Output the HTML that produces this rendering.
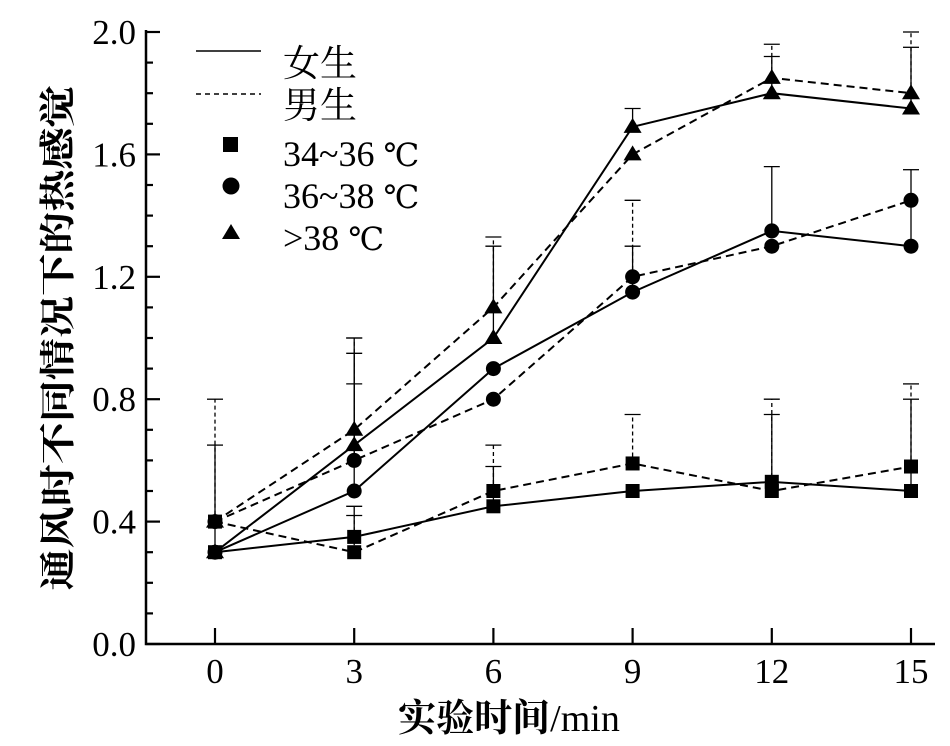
<!DOCTYPE html>
<html><head><meta charset="utf-8"><style>body{margin:0;background:#fff}svg{display:block}</style></head><body>
<svg width="950" height="746" viewBox="0 0 950 746" xmlns="http://www.w3.org/2000/svg" font-family="'Liberation Serif','Noto Serif CJK SC',serif">
<g stroke="#000" stroke-width="2.5" fill="none">
<path d="M146,30V644H935"/>
</g>
<g stroke="#000" stroke-width="2.2" id="ticks"></g>
<g font-size="35" text-anchor="end" id="ylab"></g>
<g font-size="35" text-anchor="middle" id="xlab"></g>
<text x="70" y="338" font-size="36" text-anchor="middle" transform="rotate(-90 70 338)" textLength="505" lengthAdjust="spacingAndGlyphs" font-family="'Noto Serif CJK SC',serif" font-weight="bold">通风时不同情况下的热感觉</text>
<text x="509" y="731" font-size="38" text-anchor="middle"><tspan font-family="'Noto Serif CJK SC',serif" font-weight="bold">实验时间</tspan>/min</text>
<g id="err" stroke="#000" stroke-width="1.3"></g>
<g id="lines" fill="none" stroke="#000" stroke-width="2"></g>
<g id="marks" fill="#000"></g>
<g font-size="36">
<line x1="196" y1="51" x2="261" y2="51" stroke="#000" stroke-width="1.5"/>
<line x1="196" y1="94" x2="261" y2="94" stroke="#000" stroke-width="1.5" stroke-dasharray="5,4"/>
<text x="283" y="76" font-family="'Noto Serif CJK SC',serif" font-size="37">女生</text>
<text x="283" y="118" font-family="'Noto Serif CJK SC',serif" font-size="37">男生</text>
<rect x="223" y="137" width="15" height="15"/>
<circle cx="231" cy="186" r="8.5"/>
<path d="M222,240L231,225L240,240Z" transform="translate(0,-1)"/>
<text x="283" y="166">34~36 <tspan font-family="'DejaVu Serif',serif" font-size="32">℃</tspan></text>
<text x="283" y="208">36~38 <tspan font-family="'DejaVu Serif',serif" font-size="32">℃</tspan></text>
<text x="283" y="250">&gt;38 <tspan font-family="'DejaVu Serif',serif" font-size="32">℃</tspan></text>
</g>
</svg>
<script>
const NS="http://www.w3.org/2000/svg";
const X=i=>215+139.2*i, Y=v=>644-306*v;
function el(p,t,a,txt){const e=document.createElementNS(NS,t);for(const k in a)e.setAttribute(k,a[k]);if(txt!==undefined)e.textContent=txt;document.getElementById(p).appendChild(e);return e;}
for(let k=0;k<=20;k++){const y=Y(k*0.1);const maj=k%4==0;el("ticks","line",{x1:146,x2:maj?160:153,y1:y,y2:y});}
for(let k=0;k<=5;k++)el("ylab","text",{x:136,y:Y(k*0.4)+12},(k*0.4).toFixed(1));
for(let i=0;i<6;i++){el("ticks","line",{x1:X(i),x2:X(i),y1:644,y2:628});el("xlab","text",{x:X(i),y:683},String(i*3));}
const F={sq:[.30,.35,.45,.50,.53,.50],ci:[.30,.50,.90,1.15,1.35,1.30],tr:[.30,.65,1.00,1.69,1.80,1.75]};
const M={sq:[.40,.30,.50,.59,.50,.58],ci:[.40,.60,.80,1.20,1.30,1.45],tr:[.40,.70,1.10,1.60,1.85,1.80]};
const EF={sq:[.65,.45,.58,null,.75,.80],ci:[null,.95,null,1.30,1.56,1.55],tr:[null,1.0,1.30,1.75,1.92,1.95]};
const EM={sq:[.80,.42,.65,.75,.80,.85],ci:[null,.85,null,1.45,null,null],tr:[null,1.0,1.33,null,1.96,2.0]};
function err(E,D,dash){for(const s in E)E[s].forEach((v,i)=>{if(v==null)return;const a={x1:X(i),x2:X(i),y1:Y(D[s][i]),y2:Y(v)};if(dash)a["stroke-dasharray"]="4,3";el("err","line",a);el("err","line",{x1:X(i)-8,x2:X(i)+8,y1:Y(v),y2:Y(v)});});}
err(EF,F,false);err(EM,M,true);
function line(D,dash){for(const s in D){const a={points:D[s].map((v,i)=>X(i)+","+Y(v)).join(" ")};if(dash)a["stroke-dasharray"]="8,5";el("lines","polyline",a);}}
line(F,false);line(M,true);
function mk(D){D.sq.forEach((v,i)=>el("marks","rect",{x:X(i)-7,y:Y(v)-7,width:14,height:14}));D.ci.forEach((v,i)=>el("marks","circle",{cx:X(i),cy:Y(v),r:7.5}));D.tr.forEach((v,i)=>{const x=X(i),y=Y(v);el("marks","path",{d:`M${x-9},${y+6}L${x},${y-9}L${x+9},${y+6}Z`});});}
mk(F);mk(M);
</script>
</body></html>
